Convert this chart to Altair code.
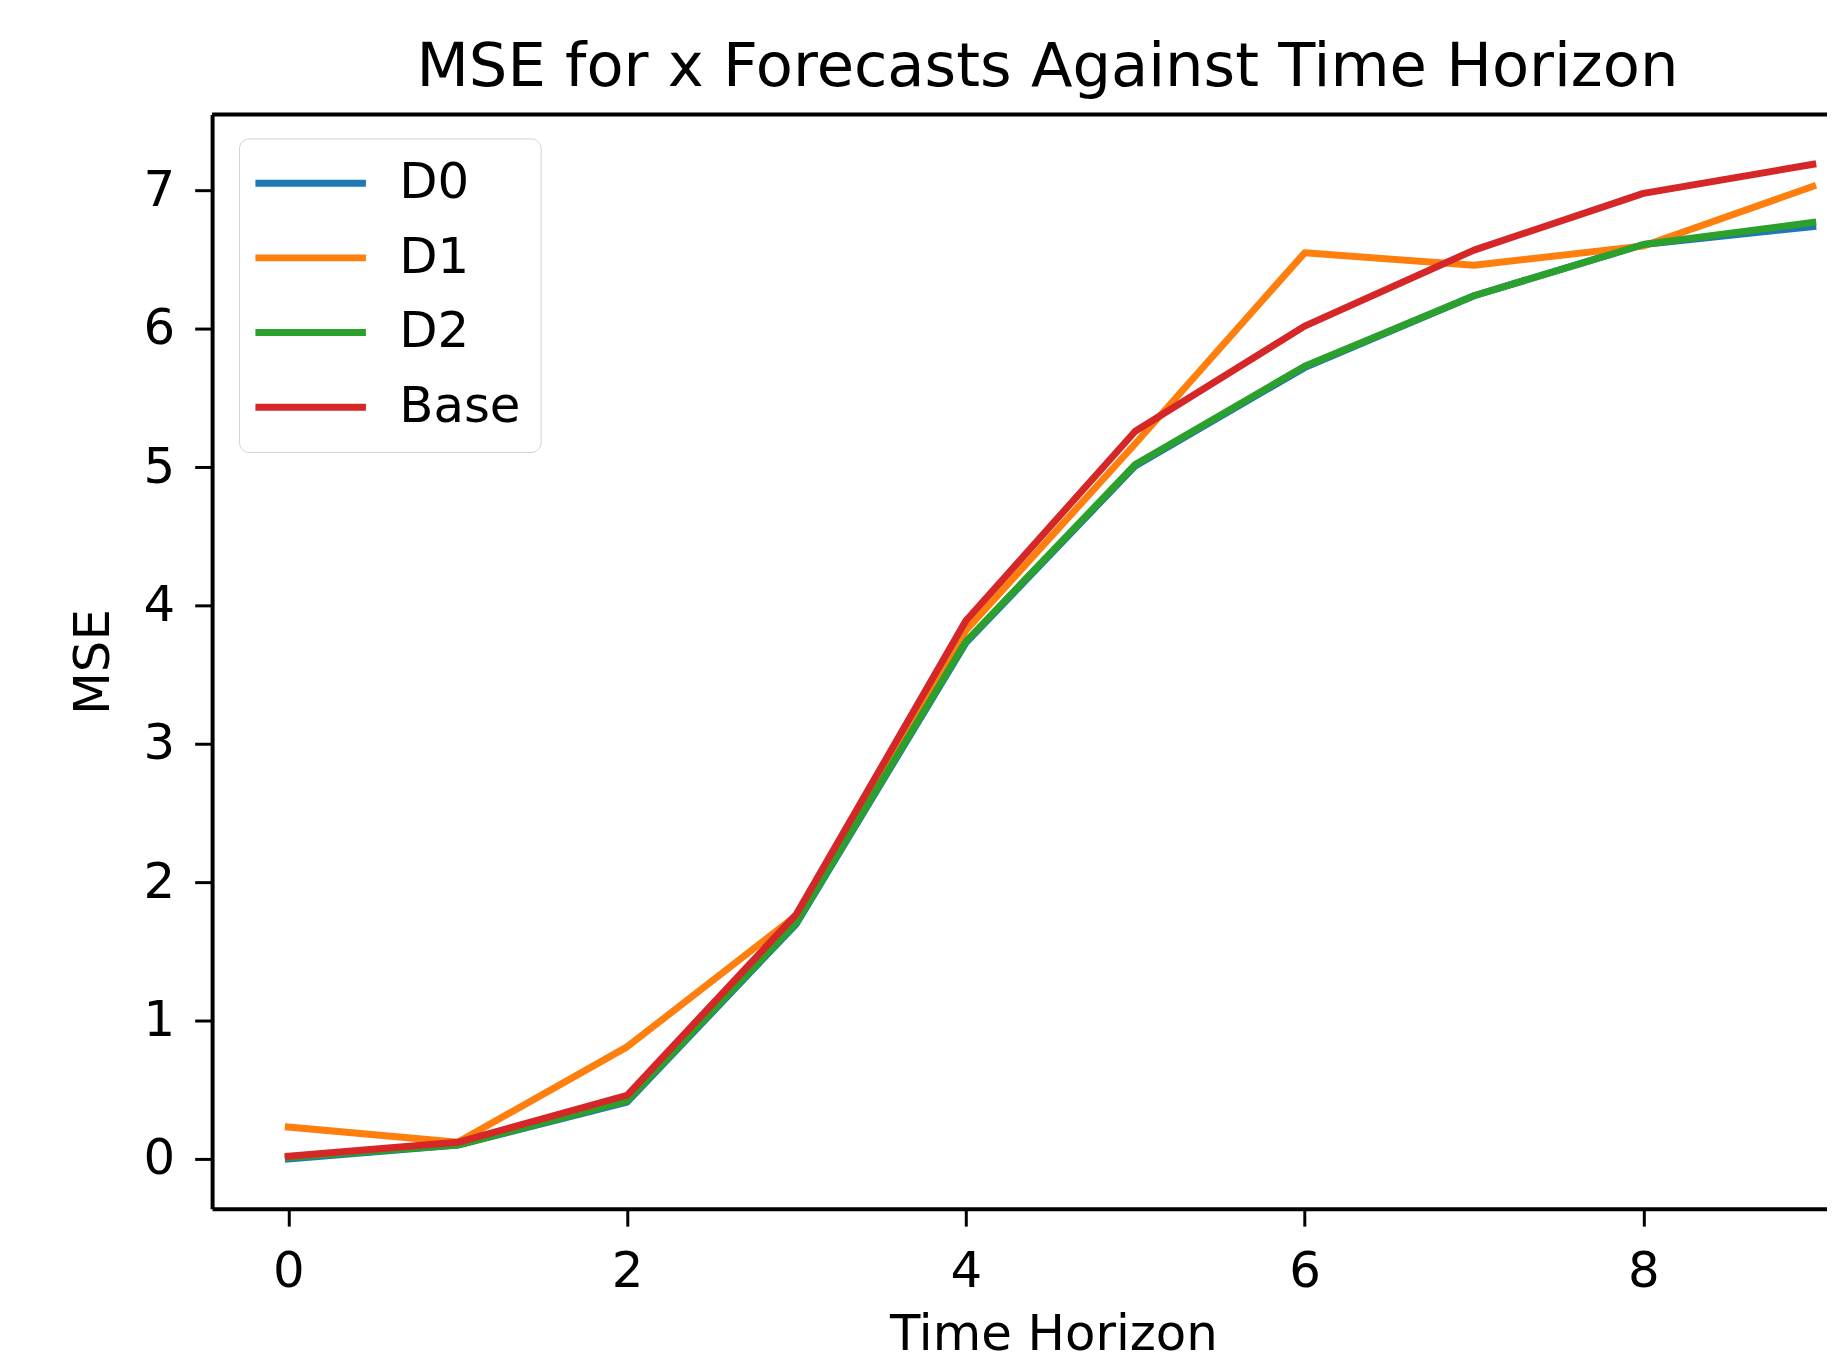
import altair as alt
import pandas as pd

# ---- data ----
horizon = [0, 1, 2, 3, 4, 5, 6, 7, 8, 9]
d0 = [0.00, 0.10, 0.41, 1.70, 3.73, 5.01, 5.72, 6.24, 6.61, 6.74]
d1 = [0.23, 0.12, 0.81, 1.76, 3.82, 5.17, 6.55, 6.46, 6.60, 7.03]
d2 = [0.01, 0.10, 0.42, 1.71, 3.74, 5.02, 5.73, 6.24, 6.61, 6.77]
base = [0.02, 0.12, 0.46, 1.77, 3.89, 5.26, 6.02, 6.57, 6.98, 7.19]

series_names = ["D0", "D1", "D2", "Base"]
series_values = [d0, d1, d2, base]
series_colors = ["#1f77b4", "#ff7f0e", "#2ca02c", "#d62728"]

x_ticks = [0, 2, 4, 6, 8]
y_ticks = [0, 1, 2, 3, 4, 5, 6, 7]

title_text = "MSE for x Forecasts Against Time Horizon"
x_title = "Time Horizon"
y_title = "MSE"

rows = []
for name, vals in zip(series_names, series_values):
    for h, v in zip(horizon, vals):
        rows.append({"horizon": h, "mse": v, "series": name})
df = pd.DataFrame(rows)

# ---- layout ----
W, H = 1622, 1099
FONT = "DejaVu Sans"

x_enc = alt.X(
    "horizon:Q",
    title=x_title,
    scale=alt.Scale(domain=[-0.45, 9.084], nice=False, zero=False),
    axis=alt.Axis(
        values=x_ticks,
        grid=False,
        labelFontSize=50,
        labelPadding=21,
        titleFontSize=50,
        titleX=845,
        titleY=141,
        titleAlign="center",
        titleBaseline="alphabetic",
    ),
)
y_enc = alt.Y(
    "mse:Q",
    title=y_title,
    scale=alt.Scale(domain=[-0.36, 7.55], nice=False, zero=False),
    axis=alt.Axis(
        values=y_ticks,
        grid=False,
        labelFontSize=50,
        labelPadding=20,
        titleFontSize=50,
        titleX=-104,
        titleY=H / 2,
        titleAngle=270,
        titleAlign="center",
        titleBaseline="alphabetic",
    ),
)
color_enc = alt.Color(
    "series:N",
    scale=alt.Scale(domain=series_names, range=series_colors),
    legend=alt.Legend(
        title=None,
        orient="none",
        legendX=27,
        legendY=24,
        direction="vertical",
        fillColor="white",
        strokeColor="#d3d3d3",
        cornerRadius=10,
        padding=20,
        rowPadding=25,
        labelFontSize=50,
        labelFont=FONT,
        labelColor="black",
        labelOffset=64,
        symbolOffset=27,
        symbolType="M-11.1,0H11.1",
        symbolSize=100,
        symbolStrokeWidth=7,
        symbolOpacity=1,
    ),
)

layers = []
for name in series_names:
    layers.append(
        alt.Chart(df)
        .transform_filter(alt.datum.series == name)
        .mark_line(strokeWidth=7, clip=True, strokeCap="square", strokeJoin="round")
        .encode(x=x_enc, y=y_enc, color=color_enc)
    )

top_spine = (
    alt.Chart(alt.Data(values=[{"k": 1}]))
    .mark_rule(color="black", strokeWidth=4)
    .encode(x=alt.value(0), x2=alt.value(W), y=alt.value(0))
)

chart = (
    alt.layer(*layers, top_spine)
    .properties(
        width=W,
        height=H,
        title=alt.TitleParams(
            text=title_text,
            fontSize=61,
            font=FONT,
            fontWeight="normal",
            color="black",
            anchor="middle",
            dx=28,
            dy=59,
            offset=25,
            baseline="alphabetic",
        ),
        autosize=alt.AutoSizeParams(type="none"),
        padding={"left": 205, "top": 104, "right": 0, "bottom": 151},
        background="white",
    )
    .configure_view(strokeWidth=0)
    .configure_axis(
        labelFont=FONT,
        titleFont=FONT,
        labelColor="black",
        titleColor="black",
        titleFontWeight="normal",
        domainColor="black",
        domainWidth=4,
        tickColor="black",
        tickWidth=3,
        tickSize=17.5,
    )
)

chart.save("out.html", embed_options={"renderer": "svg", "actions": False})
